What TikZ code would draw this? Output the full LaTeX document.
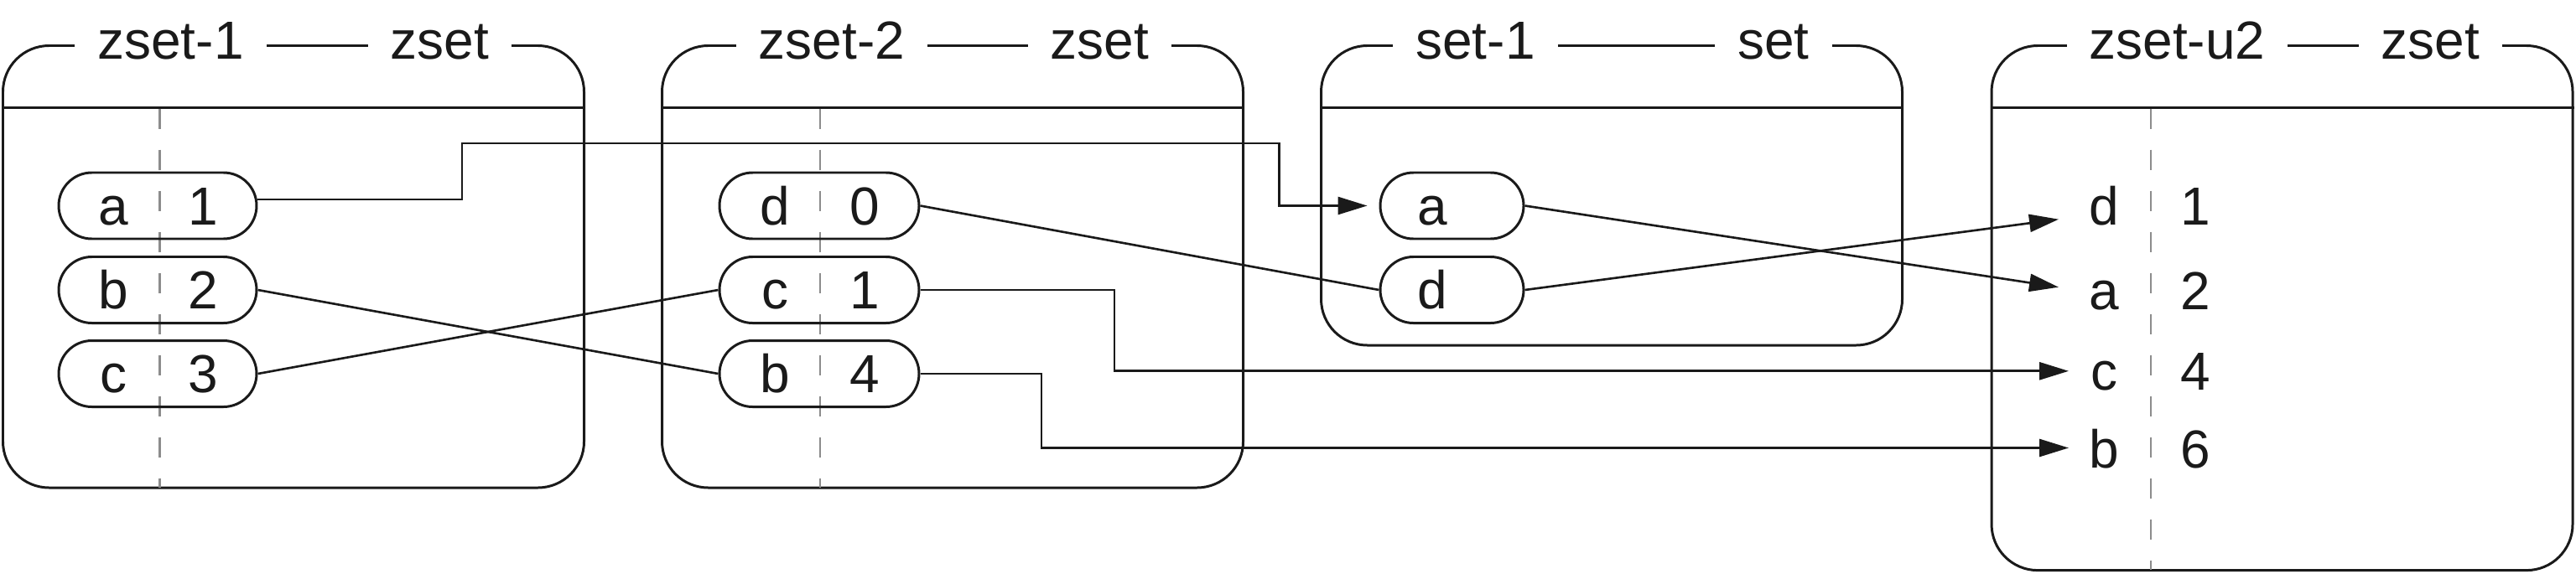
\documentclass[tikz,border=0pt]{standalone}
\usepackage{fontspec}
\setmainfont{Liberation Sans}
\usetikzlibrary{arrows.meta,calc}
\definecolor{ink}{HTML}{1A1A1A}
\definecolor{dashgray}{HTML}{8C8C8C}
\newcommand\diafont{\fontsize{18.2}{22}\selectfont}
\tikzset{
  setbox/.style={draw=ink, line width=0.85pt, rounded corners=0.55cm, inner sep=0pt, minimum width=6.93cm},
  sepline/.style={draw=ink, line width=0.85pt},
  titletxt/.style={fill=white, inner xsep=0.27cm, inner ysep=3pt, anchor=base, font=\diafont, text=ink},
  pill/.style={draw=ink, line width=0.85pt, rounded corners=0.395cm, minimum height=0.79cm, inner sep=0pt},
  txt/.style={anchor=base, font=\diafont, text=ink, inner sep=0pt},
  conn/.style={draw=ink, line width=0.75pt},
  arr/.style={conn, -{Triangle[length=0.35cm,width=0.21cm]}},
  divider/.style={draw=dashgray, line width=0.75pt, dash pattern=on 0.24cm off 0.25cm}
}
\begin{document}
\begin{tikzpicture}
\useasboundingbox (0,0) rectangle (30.72,-6.84);

% boxes
\node[setbox, minimum height=5.275cm] (b1) at (3.50,-3.1825) {};
\node[setbox, minimum height=5.275cm] (b2) at (11.36,-3.1825) {};
\node[setbox, minimum height=3.575cm] (b3) at (19.22,-2.3325) {};
\node[setbox, minimum height=6.261cm] (b4) at (27.215,-3.6755) {};

% separators
\foreach \b in {b1,b2,b3,b4}{
  \draw[sepline] ($(\b.north west)+(0,-0.751)$) -- ($(\b.north east)+(0,-0.751)$);
}

% dividers
\draw[divider] (1.905,-1.296) -- (1.905,-5.82);
\draw[divider] (9.78,-1.296) -- (9.78,-5.82);
\draw[divider] (25.65,-1.296) -- (25.65,-6.80);

% pills zset-1
\node[pill, minimum width=2.36cm] (p1a) at (1.88,-2.455) {};
\node[pill, minimum width=2.36cm] (p1b) at (1.88,-3.46) {};
\node[pill, minimum width=2.36cm] (p1c) at (1.88,-4.46) {};
% pills zset-2
\node[pill, minimum width=2.38cm] (p2d) at (9.77,-2.455) {};
\node[pill, minimum width=2.38cm] (p2c) at (9.77,-3.46) {};
\node[pill, minimum width=2.38cm] (p2b) at (9.77,-4.46) {};
% pills set-1
\node[pill, minimum width=1.71cm] (p3a) at (17.315,-2.455) {};
\node[pill, minimum width=1.71cm] (p3d) at (17.315,-3.46) {};

% pill texts
\foreach \p/\k/\v in {p1a/a/1, p1b/b/2, p1c/c/3, p2d/d/0, p2c/c/1, p2b/b/4}{
  \node[txt] (\p k) at ($(\p.center)+(-0.53,-0.225)$) {\k};
  \node[txt] (\p v) at ($(\p.center)+(0.54,-0.225)$) {\v};
}
\node[txt] (p3ak) at ($(p3a.center)+(-0.235,-0.225)$) {a};
\node[txt] (p3dk) at ($(p3d.center)+(-0.235,-0.225)$) {d};

% zset-u2 entries
\node[txt] (ud) at (25.09,-2.68) {d};
\node[txt] (ud1) at (26.18,-2.68) {1};
\node[txt] (ua) at (25.09,-3.69) {a};
\node[txt] (ua2) at (26.18,-3.69) {2};
\node[txt] (uc) at (25.09,-4.65) {c};
\node[txt] (uc4) at (26.18,-4.65) {4};
\node[txt] (ub) at (25.09,-5.585) {b};
\node[txt] (ub6) at (26.18,-5.585) {6};

% arrow tips in front of zset-u2 entries
\coordinate (td) at (24.55,-2.617);
\coordinate (ta) at (24.55,-3.427);
\coordinate (tc) at (24.67,-4.428);
\coordinate (tb) at (24.67,-5.345);

% connectors
\draw[arr, shorten >=0.14cm] ($(p1a.east)+(0,0.075)$) -| (5.51,-1.71) -| ($(p3a.west)+(-1.19,0)$) -- (p3a.west);
\draw[conn] (p1b.east) -- (p2b.west);
\draw[conn] (p1c.east) -- (p2c.west);
\draw[conn] (p2d.east) -- (p3d.west);
\draw[arr] (p2c.east) -| (13.29,-4.428) -- (tc);
\draw[arr] (p2b.east) -| (12.42,-5.345) -- (tb);
\draw[arr] (p3a.east) -- (ta);
\draw[arr] (p3d.east) -- (td);

% titles
\node[titletxt] (t1a) at (2.035,-0.70) {zset-1};
\node[titletxt] (t1b) at (5.245,-0.70) {zset};
\node[titletxt] (t2a) at (9.92,-0.70) {zset-2};
\node[titletxt] (t2b) at (13.115,-0.70) {zset};
\node[titletxt] (t3a) at (17.595,-0.70) {set-1};
\node[titletxt] (t3b) at (21.15,-0.70) {set};
\node[titletxt] (t4a) at (25.965,-0.70) {zset-u2};
\node[titletxt] (t4b) at (28.985,-0.70) {zset};
\end{tikzpicture}
\end{document}
